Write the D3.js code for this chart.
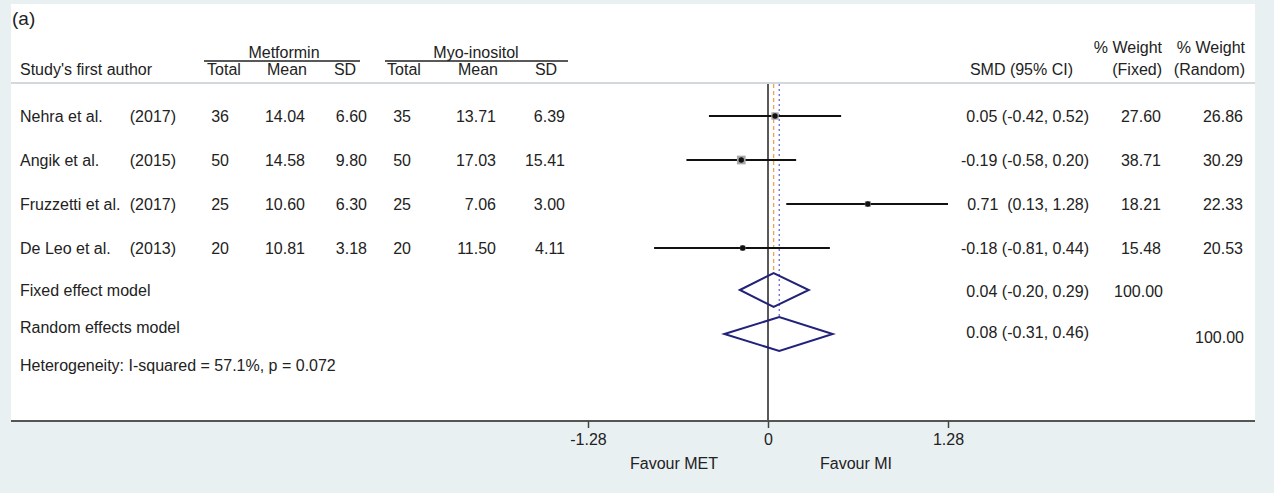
<!DOCTYPE html>
<html>
<head>
<meta charset="utf-8">
<script src="https://cdn.jsdelivr.net/npm/d3@7"></script>
<style>
  body { margin: 0; background: #e9f0f2; }
  svg text { font-family: "Liberation Sans", Arial, sans-serif; fill: #222; }
</style>
</head>
<body>
<div id="forest"></div>
<script>
// study rows
var studies = ["Nehra et al.", "Angik et al.", "Fruzzetti et al.", "De Leo et al."];
var years = ["(2017)", "(2015)", "(2017)", "(2013)"];
var metTotal = [36, 50, 25, 20];
var metMean = [14.04, 14.58, 10.60, 10.81];
var metSD = [6.60, 9.80, 6.30, 3.18];
var miTotal = [35, 50, 25, 20];
var miMean = [13.71, 17.03, 7.06, 11.50];
var miSD = [6.39, 15.41, 3.00, 4.11];
var smd = [0.05, -0.19, 0.71, -0.18];
var ciLow = [-0.42, -0.58, 0.13, -0.81];
var ciHigh = [0.52, 0.20, 1.28, 0.44];
var weightFixed = [27.60, 38.71, 18.21, 15.48];
var weightRandom = [26.86, 30.29, 22.33, 20.53];

// pooled estimates
var pooledLabels = ["Fixed effect model", "Random effects model"];
var pooledEst = [0.04, 0.08];
var pooledLow = [-0.20, -0.31];
var pooledHigh = [0.29, 0.46];
var heterogeneity = "Heterogeneity: I-squared = 57.1%, p = 0.072";

var tickValues = [-1.28, 0, 1.28];

var W = 1274, H = 493;
var FS = 16;
var svg = d3.select('#forest').append('svg')
    .attr('width', W).attr('height', H);

svg.append('rect').attr('x', 0).attr('y', 0).attr('width', W).attr('height', H).attr('fill', '#e9f0f2');
svg.append('rect').attr('x', 11).attr('y', 4).attr('width', 1244).attr('height', 417).attr('fill', '#fff');

var x = d3.scaleLinear().domain([-1.28, 1.28]).range([588, 948]);
var y = d3.scaleLinear().domain([0, 5]).range([116, 336]);
var axisY = 421;

function txt(xp, yp, s, anchor, size) {
    return svg.append('text')
        .attr('x', xp).attr('y', yp)
        .attr('dy', '0.35em')
        .attr('text-anchor', anchor || 'start')
        .style('font-size', (size || FS) + 'px')
        .style('white-space', 'pre')
        .text(s);
}
function f2(v) { return v.toFixed(2); }

// header
txt(12, 18, '(a)', 'start', 19);
txt(20, 69, "Study's first author");
txt(284, 52, 'Metformin', 'middle');
txt(476, 52, 'Myo-inositol', 'middle');
svg.append('line').attr('x1', 204).attr('x2', 360).attr('y1', 61).attr('y2', 61).attr('stroke', '#222').attr('stroke-width', 1.3);
svg.append('line').attr('x1', 385).attr('x2', 568).attr('y1', 61).attr('y2', 61).attr('stroke', '#222').attr('stroke-width', 1.3);
var subHeads = [['Total', 224], ['Mean', 287], ['SD', 345], ['Total', 404], ['Mean', 478], ['SD', 546]];
subHeads.forEach(function (h) { txt(h[1], 69, h[0], 'middle'); });
txt(1073, 69, 'SMD (95% CI)', 'end');
txt(1162, 47, '% Weight', 'end');
txt(1162, 69, '(Fixed)', 'end');
txt(1245, 47, '% Weight', 'end');
txt(1245, 69, '(Random)', 'end');

svg.append('line').attr('x1', 11).attr('x2', 1255).attr('y1', 83).attr('y2', 83)
    .attr('stroke', '#d4d8da').attr('stroke-width', 2);

// study table
studies.forEach(function (s, i) {
    var yy = y(i);
    txt(20, yy, s);
    txt(176, yy, years[i], 'end');
    txt(229, yy, metTotal[i], 'end');
    txt(305, yy, f2(metMean[i]), 'end');
    txt(367, yy, f2(metSD[i]), 'end');
    txt(411, yy, miTotal[i], 'end');
    txt(496, yy, f2(miMean[i]), 'end');
    txt(565, yy, f2(miSD[i]), 'end');
    var gap = ciLow[i] < 0 ? ' (' : '  (';
    txt(1089, yy, f2(smd[i]) + gap + f2(ciLow[i]) + ', ' + f2(ciHigh[i]) + ')', 'end');
    txt(1161, yy, f2(weightFixed[i]), 'end');
    txt(1243, yy, f2(weightRandom[i]), 'end');
});

// pooled rows
txt(20, 290, pooledLabels[0]);
txt(20, 327, pooledLabels[1]);
txt(20, 365, heterogeneity);
txt(1089, 291, f2(pooledEst[0]) + ' (' + f2(pooledLow[0]) + ', ' + f2(pooledHigh[0]) + ')', 'end');
txt(1163, 291, '100.00', 'end');
txt(1089, 332, f2(pooledEst[1]) + ' (' + f2(pooledLow[1]) + ', ' + f2(pooledHigh[1]) + ')', 'end');
txt(1244, 337, '100.00', 'end');

// reference lines
svg.append('line').attr('x1', x(0)).attr('x2', x(0)).attr('y1', 84).attr('y2', axisY)
    .attr('stroke', '#222').attr('stroke-width', 1.5);
svg.append('line').attr('x1', x(pooledEst[0])).attr('x2', x(pooledEst[0]))
    .attr('y1', 84).attr('y2', y(4) - 19)
    .attr('stroke', '#f2a055').attr('stroke-width', 1.3).attr('stroke-dasharray', '4,3');
svg.append('line').attr('x1', x(pooledEst[1])).attr('x2', x(pooledEst[1]))
    .attr('y1', 84).attr('y2', y(5) - 19)
    .attr('stroke', '#6b6be0').attr('stroke-width', 1.3).attr('stroke-dasharray', '2,3');

// study CIs, boxes, points
var g = svg.append('g');
var rows = g.selectAll('.study').data(studies).enter().append('g').attr('class', 'study');
rows.append('line')
    .attr('x1', function (d, i) { return x(ciLow[i]); })
    .attr('x2', function (d, i) { return x(ciHigh[i]); })
    .attr('y1', function (d, i) { return y(i); })
    .attr('y2', function (d, i) { return y(i); })
    .attr('stroke', '#111').attr('stroke-width', 2.2);
rows.append('rect')
    .attr('width', function (d, i) { return 1.4 * Math.sqrt(weightFixed[i]); })
    .attr('height', function (d, i) { return 1.4 * Math.sqrt(weightFixed[i]); })
    .attr('x', function (d, i) { return x(smd[i]) - 0.7 * Math.sqrt(weightFixed[i]); })
    .attr('y', function (d, i) { return y(i) - 0.7 * Math.sqrt(weightFixed[i]); })
    .attr('fill', '#a8a8a8');
rows.append('circle')
    .attr('cx', function (d, i) { return x(smd[i]); })
    .attr('cy', function (d, i) { return y(i); })
    .attr('r', 2.7)
    .attr('fill', '#111');

// diamonds
pooledEst.forEach(function (e, k) {
    var cy = y(4 + k) - 2;
    var pts = [[x(pooledLow[k]), cy], [x(e), cy - 17], [x(pooledHigh[k]), cy], [x(e), cy + 17]];
    svg.append('polygon')
        .attr('points', pts.map(function (p) { return p.join(','); }).join(' '))
        .attr('fill', 'none').attr('stroke', '#22227a').attr('stroke-width', 2);
});

// axis
svg.append('line').attr('x1', 11).attr('x2', 1255).attr('y1', axisY).attr('y2', axisY)
    .attr('stroke', '#555').attr('stroke-width', 2);
var axis = d3.axisBottom(x).tickValues(tickValues).tickSize(7).tickPadding(6)
    .tickFormat(function (d) { return d === 0 ? '0' : f2(d); });
var ax = svg.append('g').attr('transform', 'translate(0,' + axisY + ')').call(axis);
ax.select('.domain').remove();
ax.selectAll('.tick line').attr('stroke', '#444').attr('stroke-width', 1.5);
ax.selectAll('.tick text').style('font-size', FS + 'px').style('font-family', '"Liberation Sans", Arial, sans-serif').attr('fill', '#222');
txt(674, 463, 'Favour MET', 'middle');
txt(856, 463, 'Favour MI', 'middle');
</script>
</body>
</html>
